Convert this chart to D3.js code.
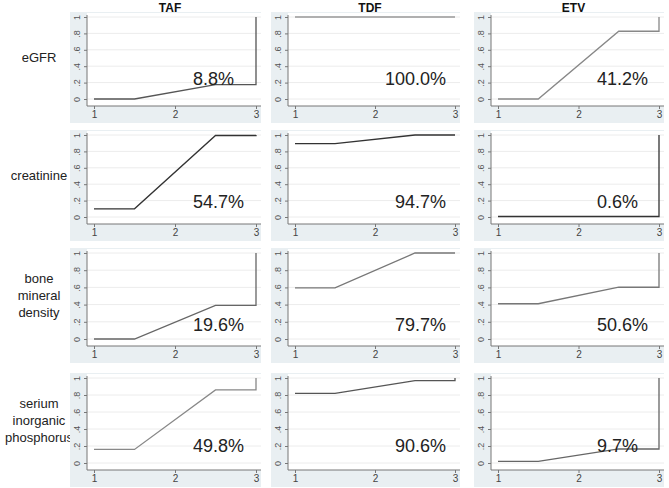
<!DOCTYPE html>
<html><head><meta charset="utf-8">
<script src="https://cdn.jsdelivr.net/npm/d3@7"></script>
<style>body{margin:0;background:#fff}svg{display:block}</style>
</head><body><svg id="c" width="669" height="488"></svg>
<script>
// ---- data ----
const drugs = ["TAF", "TDF", "ETV"];
const outcomes = [["eGFR"], ["creatinine"], ["bone", "mineral", "density"], ["serium", "inorganic", "phosphorus"]];
const rankKnots = [1, 1.5, 2.5, 3, 3];
// cumulative probability of being within rank 1 and rank 2 (rank 3 = 1)
const cumRank1 = [
  [0.0, 1.0, 0.0],
  [0.10, 0.894, 0.006],
  [0.0, 0.594, 0.41],
  [0.16, 0.82, 0.02]
];
const cumRank2 = [
  [0.176, 1.0, 0.826],
  [0.994, 1.0, 0.006],
  [0.39, 1.0, 0.602],
  [0.86, 0.97, 0.165]
];
const sucraLabels = [
  ["8.8%", "100.0%", "41.2%"],
  ["54.7%", "94.7%", "0.6%"],
  ["19.6%", "79.7%", "50.6%"],
  ["49.8%", "90.6%", "9.7%"]
];
const yTicks = [0, 0.2, 0.4, 0.6, 0.8, 1];
const yTickLabels = ["0", ".2", ".4", ".6", ".8", "1"];
const xTicks = [1, 2, 3];

// ---- layout / style ----
const rowTop = [17, 135, 253, 378];
const rowBottom = [99, 217, 339, 463];
const colX = [[94, 256], [295, 455], [498, 659]];
const labelLevel = [0.17, 0.11, 0.095, 0.13];
const lineColors = [
  ["#555", "#999", "#888"],
  ["#333", "#333", "#333"],
  ["#666", "#777", "#777"],
  ["#888", "#555", "#666"]
];
const labelAnchor = ["start", "end", "start"];
const FONT = "Liberation Sans, Arial, sans-serif";

const svg = d3.select("#c");

drugs.forEach((d, c) => {
  svg.append("text").attr("x", (colX[c][0] + colX[c][1]) / 2 - 5).attr("y", 12)
    .attr("text-anchor", "middle").attr("font-family", FONT)
    .attr("font-weight", "bold").attr("font-size", 12).attr("fill", "#111").text(d);
});

outcomes.forEach((lines, r) => {
  const cy = (rowTop[r] + rowBottom[r]) / 2;
  const lh = 17;
  const t = svg.append("text").attr("text-anchor", "middle")
    .attr("font-family", FONT).attr("font-size", 13).attr("fill", "#222");
  lines.forEach((ln, i) => {
    t.append("tspan").attr("x", 39).attr("y", cy + 4 + (i - (lines.length - 1) / 2) * lh).text(ln);
  });

  drugs.forEach((d, c) => {
    const x = d3.scaleLinear().domain([1, 3]).range(colX[c]);
    const y = d3.scaleLinear().domain([0, 1]).range([rowBottom[r], rowTop[r]]);
    const axX = colX[c][0] - 7, axY = rowBottom[r] + 7;
    const right = colX[c][1] + 5;
    const g = svg.append("g");
    g.append("rect").attr("x", axX - 17).attr("y", rowTop[r] - 5)
      .attr("width", right - (axX - 17)).attr("height", axY + 17 - (rowTop[r] - 5)).attr("fill", "#e9eff2");
    g.append("rect").attr("x", axX).attr("y", rowTop[r] - 4)
      .attr("width", right - axX).attr("height", axY - (rowTop[r] - 4)).attr("fill", "#fff");
    // grid
    g.selectAll(".grid").data(yTicks).enter().append("line")
      .attr("x1", axX).attr("x2", right).attr("y1", v => y(v)).attr("y2", v => y(v))
      .attr("stroke", "#ececec").attr("stroke-width", 1);
    // y axis
    const ya = d3.axisLeft(y).tickValues(yTicks).tickSize(3).tickSizeOuter(0)
      .tickFormat((v, i) => yTickLabels[i]);
    const yg = g.append("g").attr("transform", `translate(${axX},0)`).call(ya);
    yg.select(".domain").attr("d", `M0,${rowTop[r] - 2}V${axY}`).attr("stroke", "#777");
    yg.selectAll(".tick line").attr("stroke", "#777");
    yg.selectAll(".tick text").attr("font-family", FONT)
      .attr("font-size", 9).attr("fill", "#555")
      .attr("x", null).attr("y", null).attr("dy", null)
      .attr("text-anchor", "middle").attr("dominant-baseline", "middle")
      .attr("transform", "translate(-9,0) rotate(-90)");
    // x axis
    const xa = d3.axisBottom(x).tickValues(xTicks).tickSize(3).tickSizeOuter(0).tickFormat(d3.format("d"));
    const xg = g.append("g").attr("transform", `translate(0,${axY})`).call(xa);
    xg.select(".domain").attr("d", `M${axX},0H${right}`).attr("stroke", "#777");
    xg.selectAll(".tick line").attr("stroke", "#777");
    xg.selectAll(".tick text").attr("font-family", FONT)
      .attr("font-size", 10).attr("fill", "#444").attr("y", 5);
    // curve
    const vals = [cumRank1[r][c], cumRank1[r][c], cumRank2[r][c], cumRank2[r][c], 1];
    const pts = rankKnots.map((k, i) => [k, vals[i]]);
    g.append("path").datum(pts)
      .attr("d", d3.line().x(p => x(p[0])).y(p => y(p[1])))
      .attr("fill", "none").attr("stroke", lineColors[r][c]).attr("stroke-width", 1.3);
    // label
    const lx = labelAnchor[c] === "end" ? colX[c][1] - 9 : colX[c][0] + 99;
    g.append("text").attr("x", lx).attr("y", y(labelLevel[r])).attr("text-anchor", labelAnchor[c])
      .attr("font-family", FONT).attr("font-size", 18)
      .attr("fill", "#222").text(sucraLabels[r][c]);
  });
});
</script></body></html>
